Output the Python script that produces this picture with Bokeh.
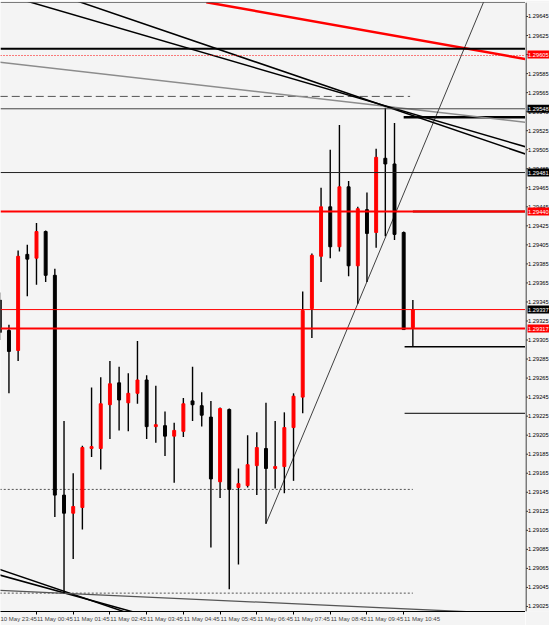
from bokeh.plotting import figure
from bokeh.layouts import row
from bokeh.models import Range1d, FixedTicker, Span
from bokeh.core.properties import value
from bokeh.embed import file_html
from bokeh.resources import INLINE

# ---- data -------------------------------------------------------------
time_labels = ["10 May 23:45", "11 May 00:45", "11 May 01:45", "11 May 02:45",
               "11 May 03:45", "11 May 04:45", "11 May 05:45", "11 May 06:45",
               "11 May 07:45", "11 May 08:45", "11 May 09:45", "11 May 10:45"]
label_bars = [-4, 0, 4, 8, 12, 16, 20, 24, 28, 32, 36, 40]

bars = list(range(-4, 42))
opens = [1.29347, 1.29315, 1.29294, 1.29395, 1.29391, 1.29419, 1.29373, 1.29142,
         1.29123, 1.29129, 1.29191, 1.29191, 1.29237, 1.29260, 1.29239, 1.29249,
         1.29263, 1.29214, 1.29215, 1.29204, 1.29209, 1.29241, 1.29236, 1.29224,
         1.29156, 1.29232, 1.29150, 1.29152, 1.29173, 1.29191, 1.29170, 1.29172,
         1.29213, 1.29245, 1.29338, 1.29393, 1.29445, 1.29403, 1.29466, 1.29383,
         1.29442, 1.29418, 1.29496, 1.29490, 1.29418, 1.29318]
highs = [1.29355, 1.29321, 1.29399, 1.29405, 1.29428, 1.29420, 1.29380, 1.29220,
         1.29165, 1.29194, 1.29255, 1.29266, 1.29283, 1.29277, 1.29270, 1.29304,
         1.29268, 1.29257, 1.29230, 1.29218, 1.29244, 1.29277, 1.29250, 1.29241,
         1.29234, 1.29233, 1.29170, 1.29205, 1.29208, 1.29239, 1.29220, 1.29229,
         1.29249, 1.29356, 1.29396, 1.29465, 1.29505, 1.29531, 1.29472, 1.29445,
         1.29460, 1.29506, 1.29549, 1.29533, 1.29419, 1.29347]
lows = [1.29305, 1.29249, 1.29283, 1.29351, 1.29363, 1.29366, 1.29119, 1.29039,
        1.29075, 1.29106, 1.29182, 1.29169, 1.29201, 1.29210, 1.29209, 1.29238,
        1.29201, 1.29197, 1.29183, 1.29155, 1.29203, 1.29220, 1.29214, 1.29087,
        1.29139, 1.29043, 1.29069, 1.29150, 1.29142, 1.29112, 1.29149, 1.29144,
        1.29157, 1.29228, 1.29307, 1.29366, 1.29391, 1.29398, 1.29372, 1.29343,
        1.29366, 1.29402, 1.29414, 1.29410, 1.29316, 1.29298]
closes = [1.29313, 1.29293, 1.29393, 1.29390, 1.29419, 1.29373, 1.29142, 1.29123,
          1.29130, 1.29192, 1.29193, 1.29238, 1.29259, 1.29242, 1.29249, 1.29263,
          1.29214, 1.29216, 1.29204, 1.29210, 1.29238, 1.29237, 1.29226, 1.29159,
          1.29233, 1.29148, 1.29154, 1.29174, 1.29192, 1.29170, 1.29172, 1.29213,
          1.29246, 1.29336, 1.29394, 1.29445, 1.29403, 1.29466, 1.29383, 1.29443,
          1.29417, 1.29497, 1.29490, 1.29416, 1.29316, 1.29337]

# price scale ticks
price_ticks = [round(1.29025 + 0.0002 * k, 5) for k in range(32)]
price_tick_labels = ["%.5f" % t for t in price_ticks]

# full-width horizontal levels
level_black_thick = 1.29611
level_red_dotted = 1.29604
level_gray = 1.29548
level_black = 1.29481
level_red_thick_a = 1.29440
level_red_thin = 1.29337
level_red_thick_b = 1.29317

# partial horizontal levels: (bar_from, bar_to, price)
dashed_level = (-4, 40.7, 1.29561)
black_short_a = (40.0, 56, 1.29539)
maroon_short = (41.0, 56, 1.29440)
black_short_b = (40.1, 56, 1.29298)
black_short_c = (40.1, 56, 1.29228)
dotted_level_a = (-4, 41, 1.29148)
dotted_level_b = (-4, 41, 1.29039)

# trend lines: ([bar0, bar1], [price0, price1])
red_trend = ([18.5, 54], [1.29660, 1.29599])
black_trend_a = ([-1, 54], [1.29661, 1.29506])
black_trend_b = ([4.5, 54], [1.29661, 1.29498])
gray_trend = ([-4, 54], [1.29597, 1.29533])
rising_trend = ([25, 49], [1.29112, 1.29667])
low_trend_a = ([-4, 10], [1.29064, 1.29018])
low_trend_b = ([-4, 11], [1.29058, 1.29018])
low_trend_gray = ([-4, 48], [1.29042, 1.29019])

# price markers on the scale
marker_prices = [1.29605, 1.29548, 1.29481, 1.29440, 1.29337, 1.29317]
marker_texts = ["1.29605", "1.29548", "1.29481", "1.29440", "1.29337", "1.29317"]
marker_kinds = ["red", "black", "black", "red", "black", "red"]

# ---- styling constants --------------------------------------------------
BG = "#f4f4f4"
RED = "#ff0000"
FONT = "Liberation Sans"

y_range = Range1d(1.290197, 1.296597)

# ---- main chart ---------------------------------------------------------
p = figure(width=525, height=625, output_backend="svg", toolbar_location=None,
           x_range=Range1d(-3.92, 53.27), y_range=y_range,
           y_axis_location=None, min_border_left=0, min_border_top=2,
           min_border_right=0, min_border_bottom=14,
           background_fill_color=BG, border_fill_color=BG, outline_line_color=None)
p.xgrid.visible = False
p.ygrid.visible = False

xa = p.xaxis[0]
xa.ticker = FixedTicker(ticks=[b + 2 for b in label_bars], minor_ticks=label_bars)
xa.major_label_overrides = {b + 2: t for b, t in zip(label_bars, time_labels)}
xa.major_tick_out = 0
xa.major_tick_in = 0
xa.minor_tick_out = 3
xa.minor_tick_in = 0
xa.minor_tick_line_color = "black"
xa.major_label_standoff = 1
xa.major_label_text_font = FONT
xa.major_label_text_font_size = "6px"
xa.axis_line_color = "black"

# top frame line
p.add_layout(Span(location=y_range.end, dimension="width", line_color="black", line_width=1))

# full width levels
p.add_layout(Span(location=level_black_thick, dimension="width", line_color="black", line_width=2))
p.add_layout(Span(location=level_red_dotted, dimension="width", line_color=RED, line_width=1, line_dash="1 2"))
p.add_layout(Span(location=level_gray, dimension="width", line_color="#444444", line_width=1))
p.add_layout(Span(location=level_black, dimension="width", line_color="#222222", line_width=1))
p.add_layout(Span(location=level_red_thick_a, dimension="width", line_color=RED, line_width=2))
p.add_layout(Span(location=level_red_thin, dimension="width", line_color=RED, line_width=1))
p.add_layout(Span(location=level_red_thick_b, dimension="width", line_color=RED, line_width=2))

def hseg(lv, color, width, dash="solid"):
    p.line([lv[0], lv[1]], [lv[2], lv[2]], line_color=color, line_width=width, line_dash=dash)

hseg(dashed_level, "#555555", 1, "8 4")
hseg(black_short_a, "black", 2.5)
hseg(maroon_short, "#6a0000", 2)
hseg(black_short_b, "black", 1.5)
hseg(black_short_c, "black", 1)
hseg(dotted_level_a, "#555555", 1, "2 2")
hseg(dotted_level_b, "#555555", 1, "2 2")

def tline(tl, color, width):
    p.line(tl[0], tl[1], line_color=color, line_width=width)

tline(red_trend, RED, 2.5)
tline(gray_trend, "#8c8c8c", 1.5)
tline(black_trend_a, "black", 1.5)
tline(black_trend_b, "black", 1.5)
tline(rising_trend, "#111111", 0.8)
tline(low_trend_a, "black", 1.5)
tline(low_trend_b, "black", 1.5)
tline(low_trend_gray, "#555555", 1.3)

# candles
colors = [RED if c >= o else "black" for o, c in zip(opens, closes)]
tops = [max(o, c) for o, c in zip(opens, closes)]
bottoms = [min(o, c) for o, c in zip(opens, closes)]
p.segment(x0=bars, y0=lows, x1=bars, y1=highs, line_color="black", line_width=1.4)
p.vbar(x=bars, width=0.32, top=tops, bottom=bottoms, fill_color=colors, line_color=colors, line_width=1)

# ---- price scale panel (shares the price range) ------------------------
q = figure(width=24, height=625, output_backend="svg", toolbar_location=None,
           x_range=Range1d(0, 24), y_range=y_range,
           x_axis_location=None, y_axis_location=None,
           min_border_left=0, min_border_right=0, min_border_top=2, min_border_bottom=14,
           background_fill_color=BG, border_fill_color=BG, outline_line_color=None)
q.xgrid.visible = False
q.ygrid.visible = False
q.add_layout(Span(location=0.5, dimension="height", line_color="black", line_width=1))
q.segment(x0=1, y0=price_ticks, x1=2.3, y1=price_ticks, line_color="black", line_width=1)
q.text(x=2.6, y=price_ticks, text=price_tick_labels, text_font=value(FONT),
       text_font_size=value("5.7px"), text_baseline="middle", text_align="left", text_color="black")
marker_colors = [RED if k == "red" else "black" for k in marker_kinds]
q.rect(x=13.5, y=marker_prices, width=23, height=8, height_units="screen",
       fill_color=marker_colors, line_color=None)
q.text(x=2.6, y=marker_prices, text=marker_texts, text_font=value(FONT),
       text_font_size=value("5.7px"), text_baseline="middle", text_align="left", text_color="white")

layout = row(p, q, spacing=0)
open("out.html", "w").write(file_html(layout, INLINE))
